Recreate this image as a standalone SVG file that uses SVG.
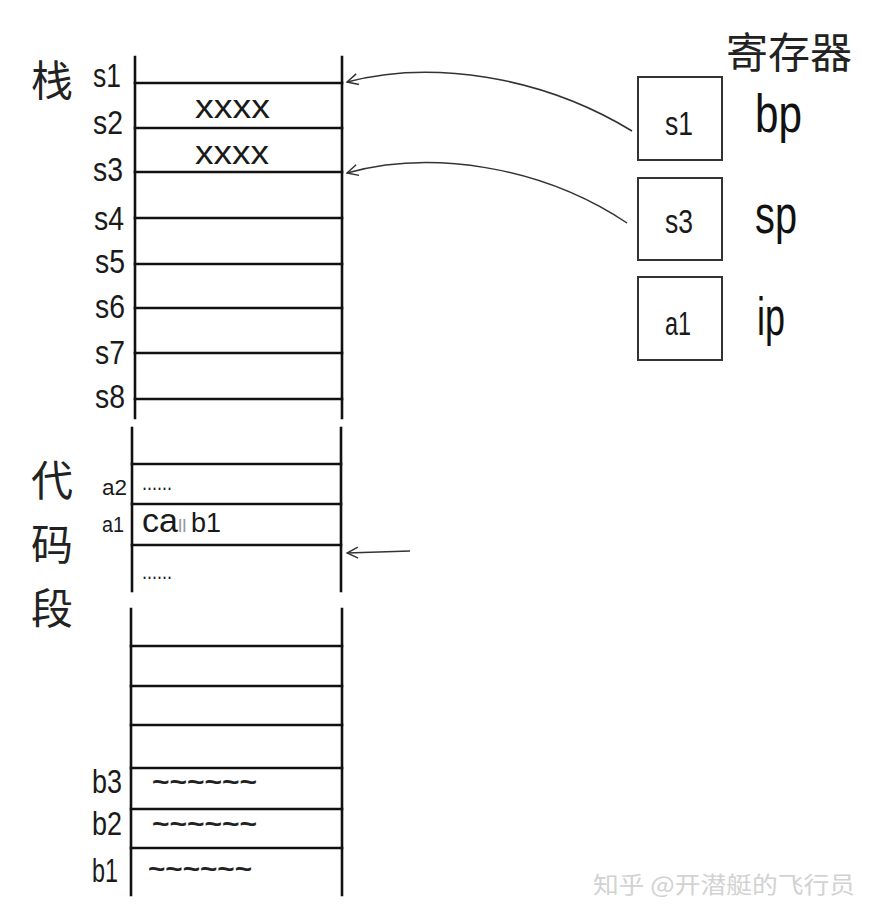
<svg xmlns="http://www.w3.org/2000/svg" width="878" height="918" viewBox="0 0 878 918">
<defs>
<style>
.bg{fill:#fff}
.ln{stroke:#111;stroke-width:2.6;fill:none;stroke-linecap:square}
.box{stroke:#333;stroke-width:2;fill:#fff}
.lbl{font-family:"Liberation Sans","DejaVu Sans",sans-serif;font-size:34px;fill:#1a1a1a}
.sm{font-family:"Liberation Sans","DejaVu Sans",sans-serif;font-size:22px;fill:#1a1a1a}
.reg{font-family:"Liberation Sans","DejaVu Sans",sans-serif;font-size:54px;fill:#111}
.cjk{font-family:"Noto Sans CJK SC","Noto Sans CJK JP",sans-serif;font-size:42px;fill:#222;font-weight:400}
.til{font-family:"Liberation Sans","DejaVu Sans",sans-serif;font-size:26px;font-weight:bold;fill:#222}
.wm{font-family:"Noto Sans CJK SC",sans-serif;font-size:23px;fill:#d2d2d2}
.arr{stroke:#333;stroke-width:1.5;fill:none}
</style>
<marker id="ah" viewBox="0 0 14 14" refX="13" refY="7" markerWidth="14" markerHeight="14" markerUnits="userSpaceOnUse" orient="auto">
<path d="M2,1.5 L13,7 L2,12.5" fill="none" stroke="#333" stroke-width="1.5"/>
</marker>
</defs>
<rect class="bg" x="0" y="0" width="878" height="918"/>

<g id="stack">
<line class="ln" x1="135" y1="57" x2="135" y2="418"/>
<line class="ln" x1="342" y1="57" x2="342" y2="418"/>
<line class="ln" x1="135" y1="83" x2="342" y2="83"/>
<line class="ln" x1="135" y1="128" x2="342" y2="128"/>
<line class="ln" x1="135" y1="172" x2="342" y2="172"/>
<line class="ln" x1="135" y1="218" x2="342" y2="218"/>
<line class="ln" x1="135" y1="264" x2="342" y2="264"/>
<line class="ln" x1="135" y1="308" x2="342" y2="308"/>
<line class="ln" x1="135" y1="353" x2="342" y2="353"/>
<line class="ln" x1="135" y1="399" x2="342" y2="399"/>
<text class="cjk" x="52" y="96" text-anchor="middle">栈</text>
<text class="lbl" x="93" y="87" textLength="28" lengthAdjust="spacingAndGlyphs">s1</text>
<text class="lbl" x="93" y="134" textLength="30" lengthAdjust="spacingAndGlyphs">s2</text>
<text class="lbl" x="93" y="181" textLength="30" lengthAdjust="spacingAndGlyphs">s3</text>
<text class="lbl" x="94" y="230" textLength="30" lengthAdjust="spacingAndGlyphs">s4</text>
<text class="lbl" x="95" y="273" textLength="30" lengthAdjust="spacingAndGlyphs">s5</text>
<text class="lbl" x="95" y="318" textLength="30" lengthAdjust="spacingAndGlyphs">s6</text>
<text class="lbl" x="95" y="364" textLength="30" lengthAdjust="spacingAndGlyphs">s7</text>
<text class="lbl" x="95" y="408" textLength="30" lengthAdjust="spacingAndGlyphs">s8</text>
<text class="lbl" x="195" y="118" textLength="75" lengthAdjust="spacingAndGlyphs">xxxx</text>
<text class="lbl" x="195" y="164" textLength="74" lengthAdjust="spacingAndGlyphs">xxxx</text>
</g>

<g id="code">
<line class="ln" x1="132" y1="428" x2="132" y2="591"/>
<line class="ln" x1="341" y1="428" x2="341" y2="591"/>
<line class="ln" x1="132" y1="464" x2="341" y2="464"/>
<line class="ln" x1="132" y1="504" x2="341" y2="504"/>
<line class="ln" x1="132" y1="545" x2="341" y2="545"/>
<text class="cjk" x="52" y="496" text-anchor="middle">代</text>
<text class="cjk" x="52" y="560" text-anchor="middle">码</text>
<text class="cjk" x="52" y="624" text-anchor="middle">段</text>
<text class="sm" x="102" y="495" textLength="25" lengthAdjust="spacingAndGlyphs">a2</text>
<text class="sm" x="102" y="532" textLength="22" lengthAdjust="spacingAndGlyphs">a1</text>
<text class="sm" x="142" y="490" textLength="30" lengthAdjust="spacingAndGlyphs">......</text>
<text class="sm" x="142" y="579" textLength="30" lengthAdjust="spacingAndGlyphs">......</text>
<text class="lbl" x="142" y="532" font-size="25">ca<tspan x="178" fill="#999" font-size="19">ll</tspan><tspan x="191" font-size="27">b1</tspan></text>
</g>

<g id="segment3">
<line class="ln" x1="131" y1="609" x2="131" y2="895"/>
<line class="ln" x1="342" y1="609" x2="342" y2="895"/>
<line class="ln" x1="131" y1="646" x2="342" y2="646"/>
<line class="ln" x1="131" y1="686" x2="342" y2="686"/>
<line class="ln" x1="131" y1="725" x2="342" y2="725"/>
<line class="ln" x1="131" y1="768" x2="342" y2="768"/>
<line class="ln" x1="131" y1="809" x2="342" y2="809"/>
<line class="ln" x1="131" y1="848" x2="342" y2="848"/>
<text class="lbl" x="92" y="793" font-size="28" textLength="30" lengthAdjust="spacingAndGlyphs">b3</text>
<text class="lbl" x="92" y="835" font-size="28" textLength="30" lengthAdjust="spacingAndGlyphs">b2</text>
<text class="lbl" x="92" y="882" font-size="28" textLength="26" lengthAdjust="spacingAndGlyphs">b1</text>
<text class="til" x="152" y="791" textLength="105" lengthAdjust="spacingAndGlyphs">~~~~~~</text>
<text class="til" x="152" y="833" textLength="105" lengthAdjust="spacingAndGlyphs">~~~~~~</text>
<text class="til" x="148" y="878" textLength="104" lengthAdjust="spacingAndGlyphs">~~~~~~</text>
</g>

<g id="registers">
<text class="cjk" x="789" y="68" text-anchor="middle" font-size="40">寄存器</text>
</g>
<g id="reg-bp">
<rect class="box" x="638" y="77" width="84" height="83"/>
<text class="lbl" x="665" y="135" textLength="28" lengthAdjust="spacingAndGlyphs">s1</text>
<text class="reg" x="755" y="132" textLength="47" lengthAdjust="spacingAndGlyphs">bp</text>
</g>
<g id="reg-sp">
<rect class="box" x="638" y="178" width="84" height="82"/>
<text class="lbl" x="665" y="233" textLength="28" lengthAdjust="spacingAndGlyphs">s3</text>
<text class="reg" x="755" y="233" textLength="42" lengthAdjust="spacingAndGlyphs">sp</text>
</g>
<g id="reg-ip">
<rect class="box" x="638" y="277" width="84" height="83"/>
<text class="lbl" x="665" y="335" textLength="26" lengthAdjust="spacingAndGlyphs">a1</text>
<text class="reg" x="757" y="335" textLength="28" lengthAdjust="spacingAndGlyphs">ip</text>
</g>

<g id="connectors">
<path class="arr" d="M632,131 C540,75 430,60 347,82" marker-end="url(#ah)"/>
<path class="arr" d="M627,223 C540,165 430,150 347,173" marker-end="url(#ah)"/>
<path class="arr" d="M410,551 L347,553" marker-end="url(#ah)" stroke="#666"/>
</g>

<text class="wm" x="593" y="893" textLength="262" lengthAdjust="spacingAndGlyphs">知乎 @开潜艇的飞行员</text>
</svg>
